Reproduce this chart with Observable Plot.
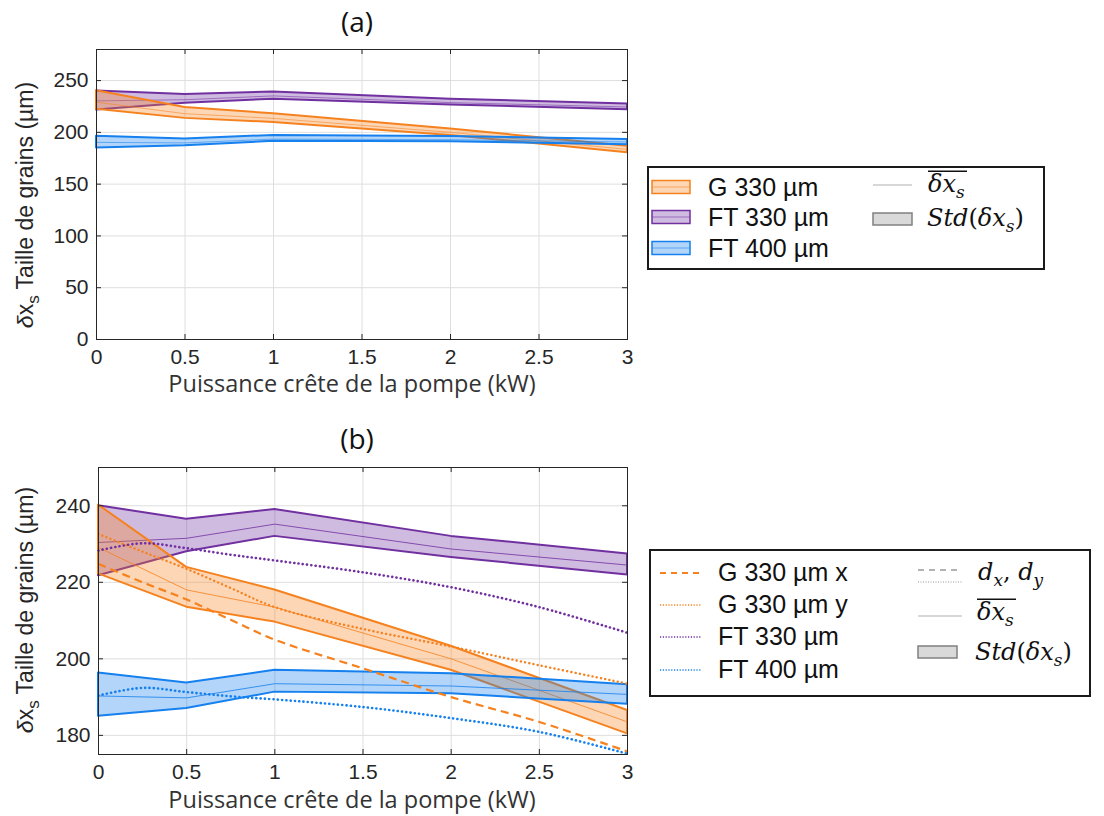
<!DOCTYPE html>
<html><head><meta charset="utf-8">
<script src="https://cdn.jsdelivr.net/npm/d3@7"></script>
<script src="https://cdn.jsdelivr.net/npm/@observablehq/plot@0.6"></script>
<style>
body{margin:0;background:#fff;}
#root{position:relative;width:1104px;height:816px;overflow:hidden;background:#fff;}
#root > svg{position:absolute;}
</style></head><body><div id="root"></div>
<script>
// ---------- data ----------
const xBand = [0, 0.5, 1, 2, 3];
const g330Upper = [240.2, 223.9, 218.0, 203.3, 186.5];
const g330Lower = [222.2, 213.5, 209.6, 197.0, 180.4];
const g330Mean  = [229.1, 218.0, 213.5, 200.0, 183.5];
const ft330Upper = [240.0, 236.5, 239.0, 232.0, 227.4];
const ft330Lower = [221.7, 228.0, 232.0, 226.5, 221.9];
const ft330Mean  = [230.4, 231.5, 235.2, 228.7, 224.5];
const ft400Upper = [196.3, 193.7, 197.0, 196.1, 193.2];
const ft400Lower = [185.0, 187.0, 191.3, 190.9, 188.1];
const ft400Mean  = [190.3, 189.8, 193.5, 192.9, 190.7];

const xFit = [0, 0.25, 0.5, 0.75, 1, 1.5, 2, 2.5, 3];
const g330X    = [224.8, 220.0, 215.5, 210.2, 205.0, 197.5, 190.0, 183.5, 175.8];
const g330Y    = [232.6, 228.0, 223.5, 218.5, 213.5, 207.8, 203.2, 198.3, 193.5];
const ft330Fit = [228.3, 230.2, 228.9, 227.2, 225.7, 222.6, 218.7, 213.5, 206.8];
const ft400Fit = [190.4, 192.4, 191.3, 190.2, 189.4, 187.4, 184.5, 180.9, 175.2];

const xTicks  = [0, 0.5, 1, 1.5, 2, 2.5, 3];
const yTicksA = [0, 50, 100, 150, 200, 250];
const yTicksB = [180, 200, 220, 240];

const bandNames = ["G 330 µm", "FT 330 µm", "FT 400 µm"];
const fitNames  = ["G 330 µm x", "G 330 µm y", "FT 330 µm", "FT 400 µm"];
const titles = ["(a)", "(b)"];
const xLabel = "Puissance crête de la pompe (kW)";
const yLabelMain = " Taille de grains (µm)";

// ---------- styles ----------
const ORANGE = "#F5821F", PURPLE = "#7030A0", BLUE = "#1580EE";
const AXIS = "#262626", GRID = "#dedede";

function bandRows(up, lo, mn) {
  return xBand.map((x, i) => ({x, up: up[i], lo: lo[i], mean: mn[i]}));
}
const bands = [
  {name: bandNames[1], color: PURPLE, rows: bandRows(ft330Upper, ft330Lower, ft330Mean)},
  {name: bandNames[0], color: ORANGE, rows: bandRows(g330Upper, g330Lower, g330Mean)},
  {name: bandNames[2], color: BLUE, rows: bandRows(ft400Upper, ft400Lower, ft400Mean)}
];
function fitRows(v) { return xFit.map((x, i) => ({x, y: v[i]})); }
const fits = [
  {name: fitNames[0], color: ORANGE, rows: fitRows(g330X), dash: "8,5", w: 2.2, cap: "butt"},
  {name: fitNames[1], color: ORANGE, rows: fitRows(g330Y), dash: "0.1,4.2", w: 2.4, cap: "round"},
  {name: fitNames[2], color: PURPLE, rows: fitRows(ft330Fit), dash: "0.1,4.2", w: 2.6, cap: "round"},
  {name: fitNames[3], color: BLUE, rows: fitRows(ft400Fit), dash: "0.1,4.2", w: 2.6, cap: "round"}
];

function panel(o) {
  const W = 640;
  const innerH = o.height - o.mt - o.mb;
  const innerW = W - o.ml - o.mr;
  const marks = [
    Plot.gridX(xTicks, {stroke: GRID, strokeOpacity: 1}),
    Plot.gridY(o.yTicks, {stroke: GRID, strokeOpacity: 1})
  ];
  for (const b of bands) {
    marks.push(Plot.areaY(b.rows, {x: "x", y1: "lo", y2: "up", fill: b.color, fillOpacity: 0.33,
      stroke: b.color, strokeWidth: 2, strokeLinejoin: "round"}));
    marks.push(Plot.line(b.rows, {x: "x", y: "mean", stroke: b.color, strokeWidth: 1, strokeOpacity: o.meanOpacity}));
  }
  if (o.fits) for (const f of fits) {
    marks.push(Plot.line(f.rows, {x: "x", y: "y", stroke: f.color, strokeWidth: f.w,
      strokeDasharray: f.dash, strokeLinecap: f.cap, curve: "catmull-rom"}));
  }
  marks.push(
    Plot.frame({stroke: AXIS, strokeWidth: 1}),
    Plot.tickX(xTicks, {x: d => d, insetTop: innerH - 5, stroke: AXIS}),
    Plot.tickX(xTicks, {x: d => d, insetBottom: innerH - 5, stroke: AXIS}),
    Plot.tickY(o.yTicks, {y: d => d, insetRight: innerW - 5, stroke: AXIS}),
    Plot.tickY(o.yTicks, {y: d => d, insetLeft: innerW - 5, stroke: AXIS}),
    Plot.axisX(xTicks, {tickSize: 0, tickPadding: 10, label: null, fontSize: 21, tickFormat: d => String(d)}),
    Plot.axisY(o.yTicks, {tickSize: 0, tickPadding: 8, label: null, fontSize: 21, tickFormat: d => String(d)})
  );
  const svg = Plot.plot({
    width: W, height: o.height,
    marginLeft: o.ml, marginRight: o.mr, marginTop: o.mt, marginBottom: o.mb,
    x: {domain: [0, 3]},
    y: {domain: o.yDomain},
    style: {fontFamily: "'Liberation Sans', Arial, sans-serif", fontSize: "21px", color: AXIS, background: "transparent"},
    marks
  });
  svg.style.left = "0px";
  svg.style.top = o.top + "px";
  // y label with subscript
  const t = d3.select(svg).append("text")
    .attr("transform", `translate(33,${o.labelY}) rotate(-90)`)
    .attr("text-anchor", "middle")
    .attr("fill", AXIS)
    .style("font-family", "'Liberation Sans', Arial, sans-serif")
    .style("font-size", "23px");
  t.append("tspan").style("font-style", "italic").text("δ");
  t.append("tspan").text("x");
  t.append("tspan").attr("dy", 6).style("font-size", "17px").text("s");
  t.append("tspan").attr("dy", -6).text(yLabelMain);
  return svg;
}

const root = document.getElementById("root");
root.appendChild(panel({top: 0, height: 400, ml: 96, mr: 13, mt: 49, mb: 61, yDomain: [0, 280], yTicks: yTicksA, fits: false, meanOpacity: 0.55, labelY: 205}));
root.appendChild(panel({top: 420, height: 396, ml: 98, mr: 13, mt: 47, mb: 62, yDomain: [175, 250], yTicks: yTicksB, fits: true, meanOpacity: 0.8, labelY: 190}));

// ---------- overlay: titles, x labels, legends ----------
const ov = d3.select(root).append("svg").attr("width", 1104).attr("height", 816)
  .style("left", "0px").style("top", "0px");
const SANS = "'Liberation Sans', Arial, sans-serif";
const SERIF = "'DejaVu Serif', serif";

[[titles[0], 22], [titles[1], 439]].forEach(([s, y]) => {
  ov.append("text").attr("x", 357).attr("y", y).attr("dy", "0.35em").attr("text-anchor", "middle")
    .style("font-family", "'Open Sans', sans-serif").style("font-size", "28px").attr("fill", "#111").text(s);
});
[384, 800].forEach(y => {
  ov.append("text").attr("x", 352).attr("y", y).attr("dy", "0.35em").attr("text-anchor", "middle")
    .style("font-family", "'Open Sans', sans-serif").style("font-size", "23.5px").attr("fill", "#333").text(xLabel);
});

function label(x, y, s, size = 25) {
  return ov.append("text").attr("x", x).attr("y", y).attr("dy", "0.36em")
    .style("font-family", SANS).style("font-size", size + "px").attr("fill", "#111").text(s);
}
function mathMean(x, y) {
  const t = ov.append("text").attr("x", x).attr("y", y).attr("dy", "0.3em")
    .style("font-family", SERIF).style("font-style", "italic").style("font-size", "24px").attr("fill", "#111");
  t.append("tspan").text("δx");
  t.append("tspan").attr("dy", 6).style("font-size", "17px").text("s");
  const bb = t.node().getBBox();
  ov.append("line").attr("x1", bb.x).attr("x2", bb.x + bb.width + 2).attr("y1", bb.y + 1).attr("y2", bb.y + 1)
    .attr("stroke", "#111").attr("stroke-width", 1.5);
}
function mathStd(x, y) {
  const t = ov.append("text").attr("x", x).attr("y", y).attr("dy", "0.3em")
    .style("font-family", SERIF).style("font-size", "24px").attr("fill", "#111");
  t.append("tspan").style("font-style", "italic").text("Std");
  t.append("tspan").text("(");
  t.append("tspan").style("font-style", "italic").text("δx");
  t.append("tspan").attr("dy", 6).style("font-style", "italic").style("font-size", "17px").text("s");
  t.append("tspan").attr("dy", -6).text(")");
}
function stdSwatch(x, y) {
  ov.append("rect").attr("x", x).attr("y", y - 6).attr("width", 39).attr("height", 12)
    .attr("fill", "#d9d9d9").attr("stroke", "#808080").attr("stroke-width", 1.5);
}

// Legend (a)
ov.append("rect").attr("x", 648).attr("y", 167).attr("width", 396).attr("height", 102)
  .attr("fill", "#fff").attr("stroke", "#1a1a1a").attr("stroke-width", 2);
const legendOrder = [bands[1], bands[0], bands[2]];
[187, 217, 248].forEach((y, i) => {
  const b = legendOrder[i];
  ov.append("rect").attr("x", 652).attr("y", y - 6.5).attr("width", 38).attr("height", 13)
    .attr("fill", b.color).attr("fill-opacity", 0.33).attr("stroke", b.color).attr("stroke-width", 1.5);
  ov.append("line").attr("x1", 652).attr("x2", 690).attr("y1", y).attr("y2", y)
    .attr("stroke", b.color).attr("stroke-opacity", 0.55).attr("stroke-width", 1);
  label(708, y, b.name);
});
ov.append("line").attr("x1", 873).attr("x2", 912).attr("y1", 185).attr("y2", 185).attr("stroke", "#b0b0b0").attr("stroke-width", 1.2);
mathMean(928, 185);
stdSwatch(873, 219);
mathStd(927, 219);

// Legend (b)
ov.append("rect").attr("x", 650).attr("y", 550).attr("width", 440).attr("height", 146)
  .attr("fill", "#fff").attr("stroke", "#1a1a1a").attr("stroke-width", 2);
[573, 605, 637, 670].forEach((y, i) => {
  const f = fits[i];
  ov.append("line").attr("x1", 660).attr("x2", 702).attr("y1", y).attr("y2", y)
    .attr("stroke", f.color).attr("stroke-width", i === 0 ? 2 : 1.5)
    .attr("stroke-dasharray", i === 0 ? "6,5" : "1.2,1.6");
  label(718, y - 1, f.name);
});
ov.append("line").attr("x1", 918).attr("x2", 962).attr("y1", 570).attr("y2", 570).attr("stroke", "#999").attr("stroke-width", 1.5).attr("stroke-dasharray", "6,5");
ov.append("line").attr("x1", 918).attr("x2", 962).attr("y1", 582).attr("y2", 582).attr("stroke", "#999").attr("stroke-width", 1.2).attr("stroke-dasharray", "1,1.5");
{
  const t = ov.append("text").attr("x", 978).attr("y", 573).attr("dy", "0.3em")
    .style("font-family", SERIF).style("font-style", "italic").style("font-size", "24px").attr("fill", "#111");
  t.append("tspan").text("d");
  t.append("tspan").attr("dy", 6).style("font-size", "17px").text("x");
  t.append("tspan").attr("dy", -6).style("font-style", "normal").text(", ");
  t.append("tspan").text("d");
  t.append("tspan").attr("dy", 6).style("font-size", "17px").text("y");
}
ov.append("line").attr("x1", 918).attr("x2", 962).attr("y1", 616).attr("y2", 616).attr("stroke", "#b0b0b0").attr("stroke-width", 1.2);
mathMean(977, 613);
stdSwatch(918, 652);
mathStd(975, 653);
</script></body></html>
